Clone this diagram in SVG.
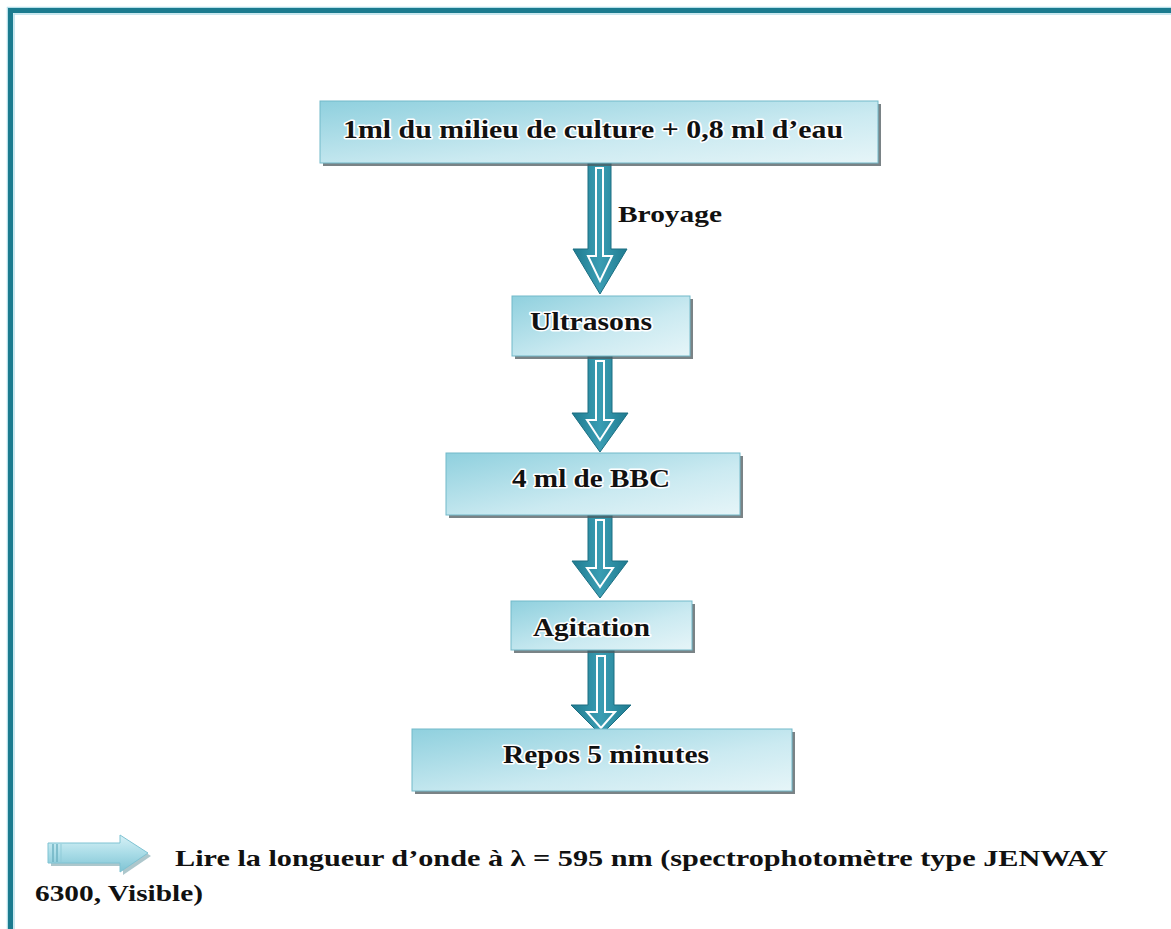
<svg xmlns="http://www.w3.org/2000/svg" width="1171" height="929" viewBox="0 0 1171 929">
<defs>
<linearGradient id="boxg" x1="0" y1="0" x2="1" y2="1">
<stop offset="0" stop-color="#8fd0de"/>
<stop offset="0.6" stop-color="#cbeaf1"/>
<stop offset="1" stop-color="#e6f5f8"/>
</linearGradient>
<linearGradient id="arrg" x1="0" y1="0" x2="1" y2="0">
<stop offset="0" stop-color="#1f7b90"/>
<stop offset="0.5" stop-color="#3a9db3"/>
<stop offset="1" stop-color="#1f7b90"/>
</linearGradient>
<linearGradient id="sideg" x1="0" y1="0" x2="0" y2="1">
<stop offset="0" stop-color="#d8f1f6"/>
<stop offset="0.5" stop-color="#a9dce7"/>
<stop offset="1" stop-color="#7fc3d3"/>
</linearGradient>
</defs>
<style>
.box{fill:url(#boxg);stroke:#72b9c9;stroke-width:1}
.shadow{fill:#4d5a5e;opacity:0.75}
.t{font-family:"Liberation Serif","Times New Roman",serif;font-weight:bold;font-size:25px;fill:#111;stroke:#ffffff;stroke-width:3px;paint-order:stroke;stroke-linejoin:round}
.b{font-family:"Liberation Serif","Times New Roman",serif;font-weight:bold;font-size:24px;fill:#111}
.arr{fill:url(#arrg);stroke:#1c6f82;stroke-width:1}
.inner{fill:none;stroke:#ffffff;stroke-width:2}
</style>
<rect width="1171" height="929" fill="#ffffff"/>
<g id="frame">
<rect x="7.5" y="7.5" width="1200" height="1000" fill="none" stroke="#b7e0ea" stroke-width="1.5"/>
<rect x="10.5" y="10.5" width="1200" height="1000" fill="none" stroke="#1b7b8f" stroke-width="5"/>
<rect x="14" y="14" width="1200" height="1000" fill="none" stroke="#b7e0ea" stroke-width="1.5"/>
</g>
<g id="connectors">
<g id="a1">
<path class="arr" d="M588,163 L611,163 L611,249 L627,249 L600,294 L573,249 L588,249 Z"/>
<path class="inner" d="M596,168 L603,168 L603,256 L612,256 L600,281 L588,256 L596,256 Z"/>
</g>
<g id="a2">
<path class="arr" d="M588,356 L612,356 L612,413 L628,413 L600,452 L572,413 L588,413 Z"/>
<path class="inner" d="M596,361 L604,361 L604,420 L613,420 L600,440 L587,420 L596,420 Z"/>
</g>
<g id="a3">
<path class="arr" d="M588,515 L612,515 L612,561 L628,561 L600,598 L572,561 L588,561 Z"/>
<path class="inner" d="M596,520 L604,520 L604,568 L613,568 L600,587 L587,568 L596,568 Z"/>
</g>
<g id="a4">
<path class="arr" d="M588,650 L614,650 L614,705 L631,705 L601,735 L571,705 L588,705 Z"/>
<path class="inner" d="M597,656 L605,656 L605,712 L615,712 L601,728 L587,712 L597,712 Z"/>
</g>
<text class="b" x="618" y="222" textLength="104" lengthAdjust="spacingAndGlyphs">Broyage</text>
</g>
<g id="n1">
<rect class="shadow" x="323" y="104" width="558" height="62"/>
<rect class="box" x="320" y="101" width="558" height="62"/>
<text class="t" x="343" y="138" textLength="500" lengthAdjust="spacingAndGlyphs">1ml du milieu  de culture + 0,8 ml d’eau</text>
</g>
<g id="n2">
<rect class="shadow" x="515" y="299" width="178" height="60"/>
<rect class="box" x="512" y="296" width="178" height="60"/>
<text class="t" x="530" y="330" textLength="122" lengthAdjust="spacingAndGlyphs">Ultrasons</text>
</g>
<g id="n3">
<rect class="shadow" x="449" y="456" width="294" height="62"/>
<rect class="box" x="446" y="453" width="294" height="62"/>
<text class="t" x="512" y="487" textLength="158" lengthAdjust="spacingAndGlyphs">4 ml de BBC</text>
</g>
<g id="n4">
<rect class="shadow" x="514" y="604" width="181" height="49"/>
<rect class="box" x="511" y="601" width="181" height="49"/>
<text class="t" x="533" y="636" textLength="117" lengthAdjust="spacingAndGlyphs">Agitation</text>
</g>
<g id="n5">
<rect class="shadow" x="415" y="732" width="380" height="62"/>
<rect class="box" x="412" y="729" width="380" height="62"/>
<text class="t" x="503" y="763" textLength="206" lengthAdjust="spacingAndGlyphs">Repos 5 minutes</text>
</g>
<g id="note">
<path d="M51,846 L123,846 L123,838 L151,856 L123,875 L123,866 L51,866 Z" fill="#5c8f9a" opacity="0.5"/>
<path d="M48,843 L120,843 L120,835 L148,853 L120,872 L120,863 L48,863 Z" fill="url(#sideg)" stroke="#7fc3d3" stroke-width="1"/>
<line x1="53" y1="844" x2="53" y2="862" stroke="#6fb3c3" stroke-width="1.5"/>
<line x1="57" y1="844" x2="57" y2="862" stroke="#6fb3c3" stroke-width="1.5"/>
<line x1="61" y1="844" x2="61" y2="862" stroke="#8fcbd8" stroke-width="1"/>
<text class="b" x="175" y="866" textLength="933" lengthAdjust="spacingAndGlyphs">Lire la longueur  d’onde à λ = 595 nm  (spectrophotomètre type JENWAY</text>
<text class="b" x="35" y="901" textLength="168" lengthAdjust="spacingAndGlyphs">6300, Visible)</text>
</g>
</svg>
